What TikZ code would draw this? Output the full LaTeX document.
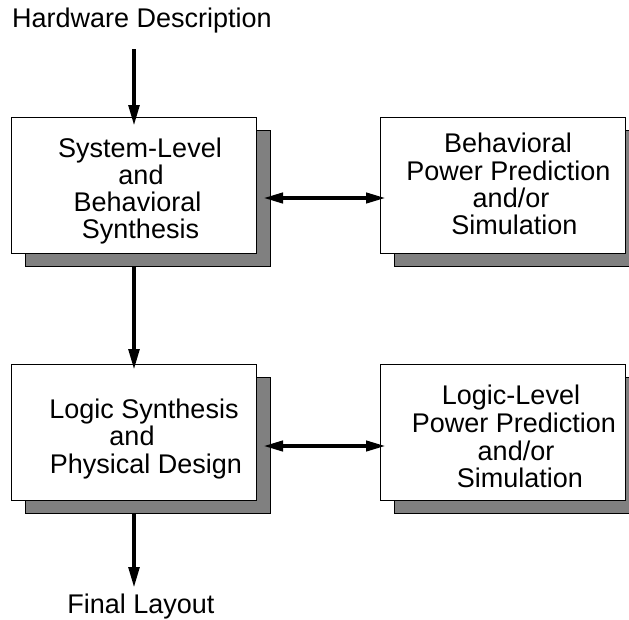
\documentclass[tikz,border=0pt]{standalone}
\usepackage{fontspec}
\setmainfont{Liberation Sans}
\usetikzlibrary{arrows.meta}
\definecolor{shadowgray}{RGB}{128,128,128}
\begin{document}
\begin{tikzpicture}[x=1pt,y=-1pt,
  box/.style={draw=black, fill=white, line width=1pt, inner sep=0pt, outer sep=0pt,
    minimum width=245pt, minimum height=136pt, anchor=north west},
  shadebox/.style={draw=black, fill=shadowgray, line width=1pt, inner sep=0pt, outer sep=0pt,
    minimum width=245pt, minimum height=136pt, anchor=north west},
  txt/.style={font=\fontsize{27}{27}\selectfont, inner sep=0pt, outer sep=0pt, anchor=base},
  flow/.style={line width=4pt, -{Triangle[length=21pt,width=10.5pt]}},
  both/.style={line width=4pt, {Triangle[length=20pt,width=10pt]}-{Triangle[length=20pt,width=10pt]}}
]
\useasboundingbox (0,0) rectangle (629,619);

% shadows and boxes
\node[shadebox] (s1) at (25,130) {};
\node[box] (b1) at (11,117) {};
\node[shadebox] (s2) at (394,130) {};
\node[box] (b2) at (380,117) {};
\node[shadebox] (s3) at (25,377) {};
\node[box] (b3) at (11,364) {};
\node[shadebox] (s4) at (394,377) {};
\node[box] (b4) at (380,364) {};

% free texts
\node[txt] (hd) at (142,27) {Hardware Description};
\node[txt] (fl) at (141,613) {Final Layout};

% box 1 text
\node[txt] (t1a) at (140,157.7) {System-Level};
\node[txt] (t1b) at (141,184.6) {and};
\node[txt] (t1c) at (137.5,211.5) {Behavioral};
\node[txt] (t1d) at (140.5,238.4) {Synthesis};

% box 2 text
\node[txt] (t2a) at (508,152.6) {Behavioral};
\node[txt] (t2b) at (508.5,180) {Power Prediction};
\node[txt] (t2c) at (511,207.4) {and/or};
\node[txt] (t2d) at (514.5,234.8) {Simulation};

% box 3 text
\node[txt] (t3a) at (144,418) {Logic Synthesis};
\node[txt] (t3b) at (132,445.5) {and};
\node[txt] (t3c) at (146,473) {Physical Design};

% box 4 text
\node[txt] (t4a) at (511,404) {Logic-Level};
\node[txt] (t4b) at (514,432) {Power Prediction};
\node[txt] (t4c) at (516,460) {and/or};
\node[txt] (t4d) at (520,487) {Simulation};

% vertical flow
\coordinate (a0) at (134,49);
\coordinate (a1) at (134,588);
\draw[flow] (a0) -- ([yshift=-9pt]a0 |- b1.north);
\draw[flow] (a0 |- s1.south) -- ([yshift=-6pt]a0 |- b3.north);
\draw[flow] (a0 |- s3.south) -- (a1);

% two-way links
\coordinate (l1) at (263,198);
\coordinate (l2) at (263,446);
\draw[both] (l1) -- ([xshift=6pt]l1 -| b2.west);
\draw[both] (l2) -- ([xshift=6pt]l2 -| b4.west);
\end{tikzpicture}
\end{document}
